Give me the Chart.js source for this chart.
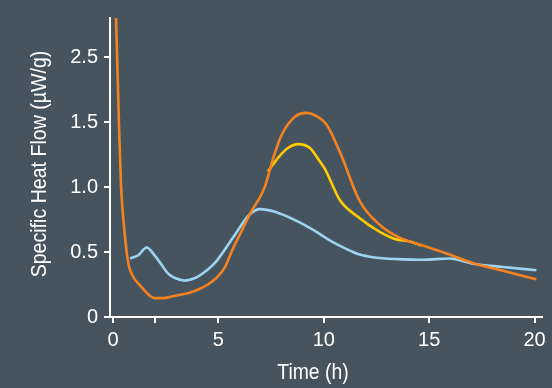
<!DOCTYPE html>
<html>
<head>
<meta charset="utf-8">
<script src="https://cdn.jsdelivr.net/npm/chart.js@4"></script>
<style>
  html, body { margin: 0; padding: 0; background: #46545f; }
  canvas { display: block; }
</style>
</head>
<body>
<canvas id="c" width="552" height="388"></canvas>
<script>
// ---- data ----
const orangeX = [0.12, 0.28, 0.38, 0.49, 0.71, 0.89, 1.36, 1.99, 2.4, 3.0, 3.6, 4.1, 4.5, 4.9, 5.3, 5.7, 6.1, 6.49, 7.2, 7.6, 8.0, 8.63, 9.18, 9.6, 10.13, 10.76, 11.71, 12.65, 13.6, 14.69, 15.97, 17.06, 18.5, 20.08];
const orangeY = [2.45, 1.52, 1.02, 0.76, 0.43, 0.33, 0.23, 0.145, 0.145, 0.165, 0.185, 0.215, 0.25, 0.30, 0.38, 0.53, 0.66, 0.79, 1.0, 1.22, 1.40, 1.54, 1.57, 1.55, 1.48, 1.27, 0.89, 0.71, 0.61, 0.55, 0.48, 0.416, 0.355, 0.29];

const yellowX = [7.35, 7.91, 8.3, 8.77, 9.34, 9.8, 10.05, 10.76, 11.71, 12.5, 13.37, 14.08, 14.63];
const yellowY = [1.12, 1.24, 1.30, 1.33, 1.30, 1.20, 1.14, 0.90, 0.76, 0.67, 0.60, 0.58, 0.55];

const blueX = [0.81, 1.2, 1.6, 1.9, 2.23, 2.61, 2.94, 3.41, 3.9, 4.3, 4.91, 5.69, 6.49, 6.97, 7.68, 8.71, 9.5, 10.28, 10.99, 11.71, 12.32, 13.5, 14.69, 15.97, 17.06, 18.5, 20.08];
const blueY = [0.45, 0.475, 0.535, 0.49, 0.42, 0.335, 0.30, 0.28, 0.30, 0.34, 0.43, 0.61, 0.79, 0.83, 0.81, 0.74, 0.67, 0.59, 0.53, 0.48, 0.46, 0.445, 0.44, 0.45, 0.41, 0.385, 0.36];

const xTickValues = [0, 2, 5, 10, 15, 20];
const xTickLabels = ['0', '', '5', '10', '15', '20'];
const yTickValues = [0, 0.5, 1, 1.5, 2];
const yTickLabels = ['0', '0.5', '1.0', '1.5', '2.5'];

const xTitle = 'Time (h)';
const yTitle = 'Specific Heat Flow (µW/g)';

// ---- build ----
const pts = (xs, ys) => xs.map((x, i) => ({ x: x, y: ys[i] }));
const FONT = "'Liberation Sans', Arial, sans-serif";

const titlesPlugin = {
  id: 'axisTitles',
  afterDraw(chart) {
    const ctx = chart.ctx;
    ctx.save();
    ctx.fillStyle = '#ffffff';
    ctx.font = '22px ' + FONT;
    ctx.textAlign = 'center';
    ctx.textBaseline = 'middle';
    ctx.save();
    ctx.translate(313, 373);
    ctx.scale(0.88, 1);
    ctx.fillText(xTitle, 0, 0);
    ctx.restore();
    ctx.translate(40, 164);
    ctx.rotate(-Math.PI / 2);
    ctx.scale(0.89, 1);
    ctx.fillText(yTitle, 0, 0);
    ctx.restore();
  }
};

const line = (data, color) => ({
  data: data,
  borderColor: color,
  borderWidth: 2.6,
  pointRadius: 0,
  fill: false,
  cubicInterpolationMode: 'monotone'
});

new Chart(document.getElementById('c'), {
  type: 'line',
  data: {
    datasets: [
      line(pts(orangeX, orangeY), '#f5821f'),
      line(pts(yellowX, yellowY), '#ffcc00'),
      line(pts(blueX, blueY), '#9dd4f0')
    ]
  },
  options: {
    responsive: false,
    animation: false,
    layout: { padding: { top: 14, right: 10, left: 0, bottom: 0 } },
    plugins: { legend: { display: false }, tooltip: { enabled: false } },
    scales: {
      x: {
        type: 'linear',
        min: -0.14,
        max: 20.35,
        afterFit(s) { s.height = 71; },
        afterBuildTicks(s) { s.ticks = xTickValues.map(v => ({ value: v })); },
        grid: { display: true, drawOnChartArea: false, drawTicks: true, tickLength: 6, color: '#ffffff', lineWidth: 2 },
        border: { display: true, color: '#ffffff', width: 2 },
        ticks: {
          color: '#ffffff',
          font: { size: 20, family: FONT },
          padding: 5,
          maxRotation: 0,
          autoSkip: false,
          callback(v) { const i = xTickValues.indexOf(v); return i >= 0 ? xTickLabels[i] : ''; }
        }
      },
      y: {
        type: 'linear',
        min: 0,
        max: 2.3,
        afterFit(s) { s.width = 110; },
        afterBuildTicks(s) { s.ticks = yTickValues.map(v => ({ value: v })); },
        grid: { display: true, drawOnChartArea: false, drawTicks: true, tickLength: 6, color: '#ffffff', lineWidth: 2 },
        border: { display: true, color: '#ffffff', width: 2 },
        ticks: {
          color: '#ffffff',
          font: { size: 20, family: FONT },
          padding: 6,
          autoSkip: false,
          callback(v) { const i = yTickValues.indexOf(v); return i >= 0 ? yTickLabels[i] : ''; }
        }
      }
    }
  },
  plugins: [titlesPlugin]
});
</script>
</body>
</html>
